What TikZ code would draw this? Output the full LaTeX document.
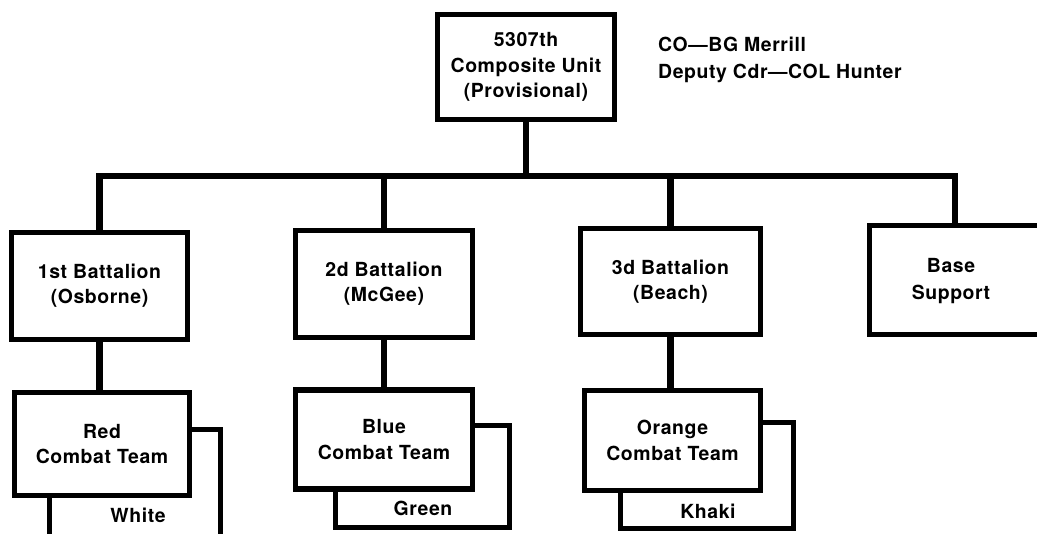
\documentclass[tikz,border=0pt]{standalone}
\usepackage{fontspec}
\setmainfont{TeX Gyre Heros}[LetterSpace=3]
\begin{document}
\begin{tikzpicture}[x=1bp,y=-1bp,
  box/.style={draw, line width=5.5bp, fill=white, rectangle, inner sep=0pt,
    align=center, font=\bfseries\fontsize{19.5}{25.5}\selectfont},
  backbox/.style={draw, line width=5.5bp, fill=white, rectangle, inner sep=0pt},
  conn/.style={line width=6.5bp, line join=miter, line cap=butt},
  lbl/.style={font=\bfseries\fontsize{19.5}{27}\selectfont, inner sep=0pt, align=left}]
\useasboundingbox (0,0) rectangle (1037,534);
\clip (0,0) rectangle (1037,534);
% top
\node[box, minimum width=177bp, minimum height=105bp] (top) at (526,67)
  {5307th\\Composite Unit\\(Provisional)};
\node[lbl, anchor=north west] (co) at (658,37) {CO—BG Merrill\\Deputy Cdr—COL Hunter};
% battalions
\node[box, minimum width=176bp, minimum height=107bp] (b1) at (99.5,286) {1st Battalion\\(Osborne)};
\node[box, minimum width=177bp, minimum height=107bp] (b2) at (384,284) {2d Battalion\\(McGee)};
\node[box, minimum width=180bp, minimum height=106bp] (b3) at (670.5,281.5) {3d Battalion\\(Beach)};
\node[box, minimum width=190bp, minimum height=109bp] (base) at (964.5,280) {};
\node[lbl, align=center] (baselbl) at (951,281) {Base\\Support};
% back boxes
\node[backbox, minimum width=171bp, minimum height=130bp] (white) at (135,494.5) {};
\node[backbox, minimum width=174bp, minimum height=102bp] (green) at (422.5,476.5) {};
\node[backbox, minimum width=173bp, minimum height=106bp] (khaki) at (707,475.5) {};
\node[lbl] (wl) at (138,515) {White};
\node[lbl] (gl) at (423,508) {Green};
\node[lbl] (kl) at (708,511) {Khaki};
% combat teams
\node[box, minimum width=175bp, minimum height=103bp] (red) at (102,444) {Red\\Combat Team};
\node[box, minimum width=177bp, minimum height=99bp] (blue) at (384,439.5) {Blue\\Combat Team};
\node[box, minimum width=176bp, minimum height=100bp] (orange) at (672.5,440.5) {Orange\\Combat Team};
% connectors
\coordinate (bar) at (0,176);
\coordinate (basetop) at (955,225.5);
\draw[conn] (top.south) -- (top.south |- bar);
\draw[conn] (b1.north) -- (b1.north |- bar) -- (basetop |- bar) -- (basetop);
\draw[conn] (b2.north) -- (b2.north |- bar);
\draw[conn] (b3.north) -- (b3.north |- bar);
\draw[conn] (b1.south) -- (b1.south |- red.north);
\draw[conn] (b2.south) -- (b2.south |- blue.north);
\draw[conn] (b3.south) -- (b3.south |- orange.north);
\end{tikzpicture}
\end{document}
